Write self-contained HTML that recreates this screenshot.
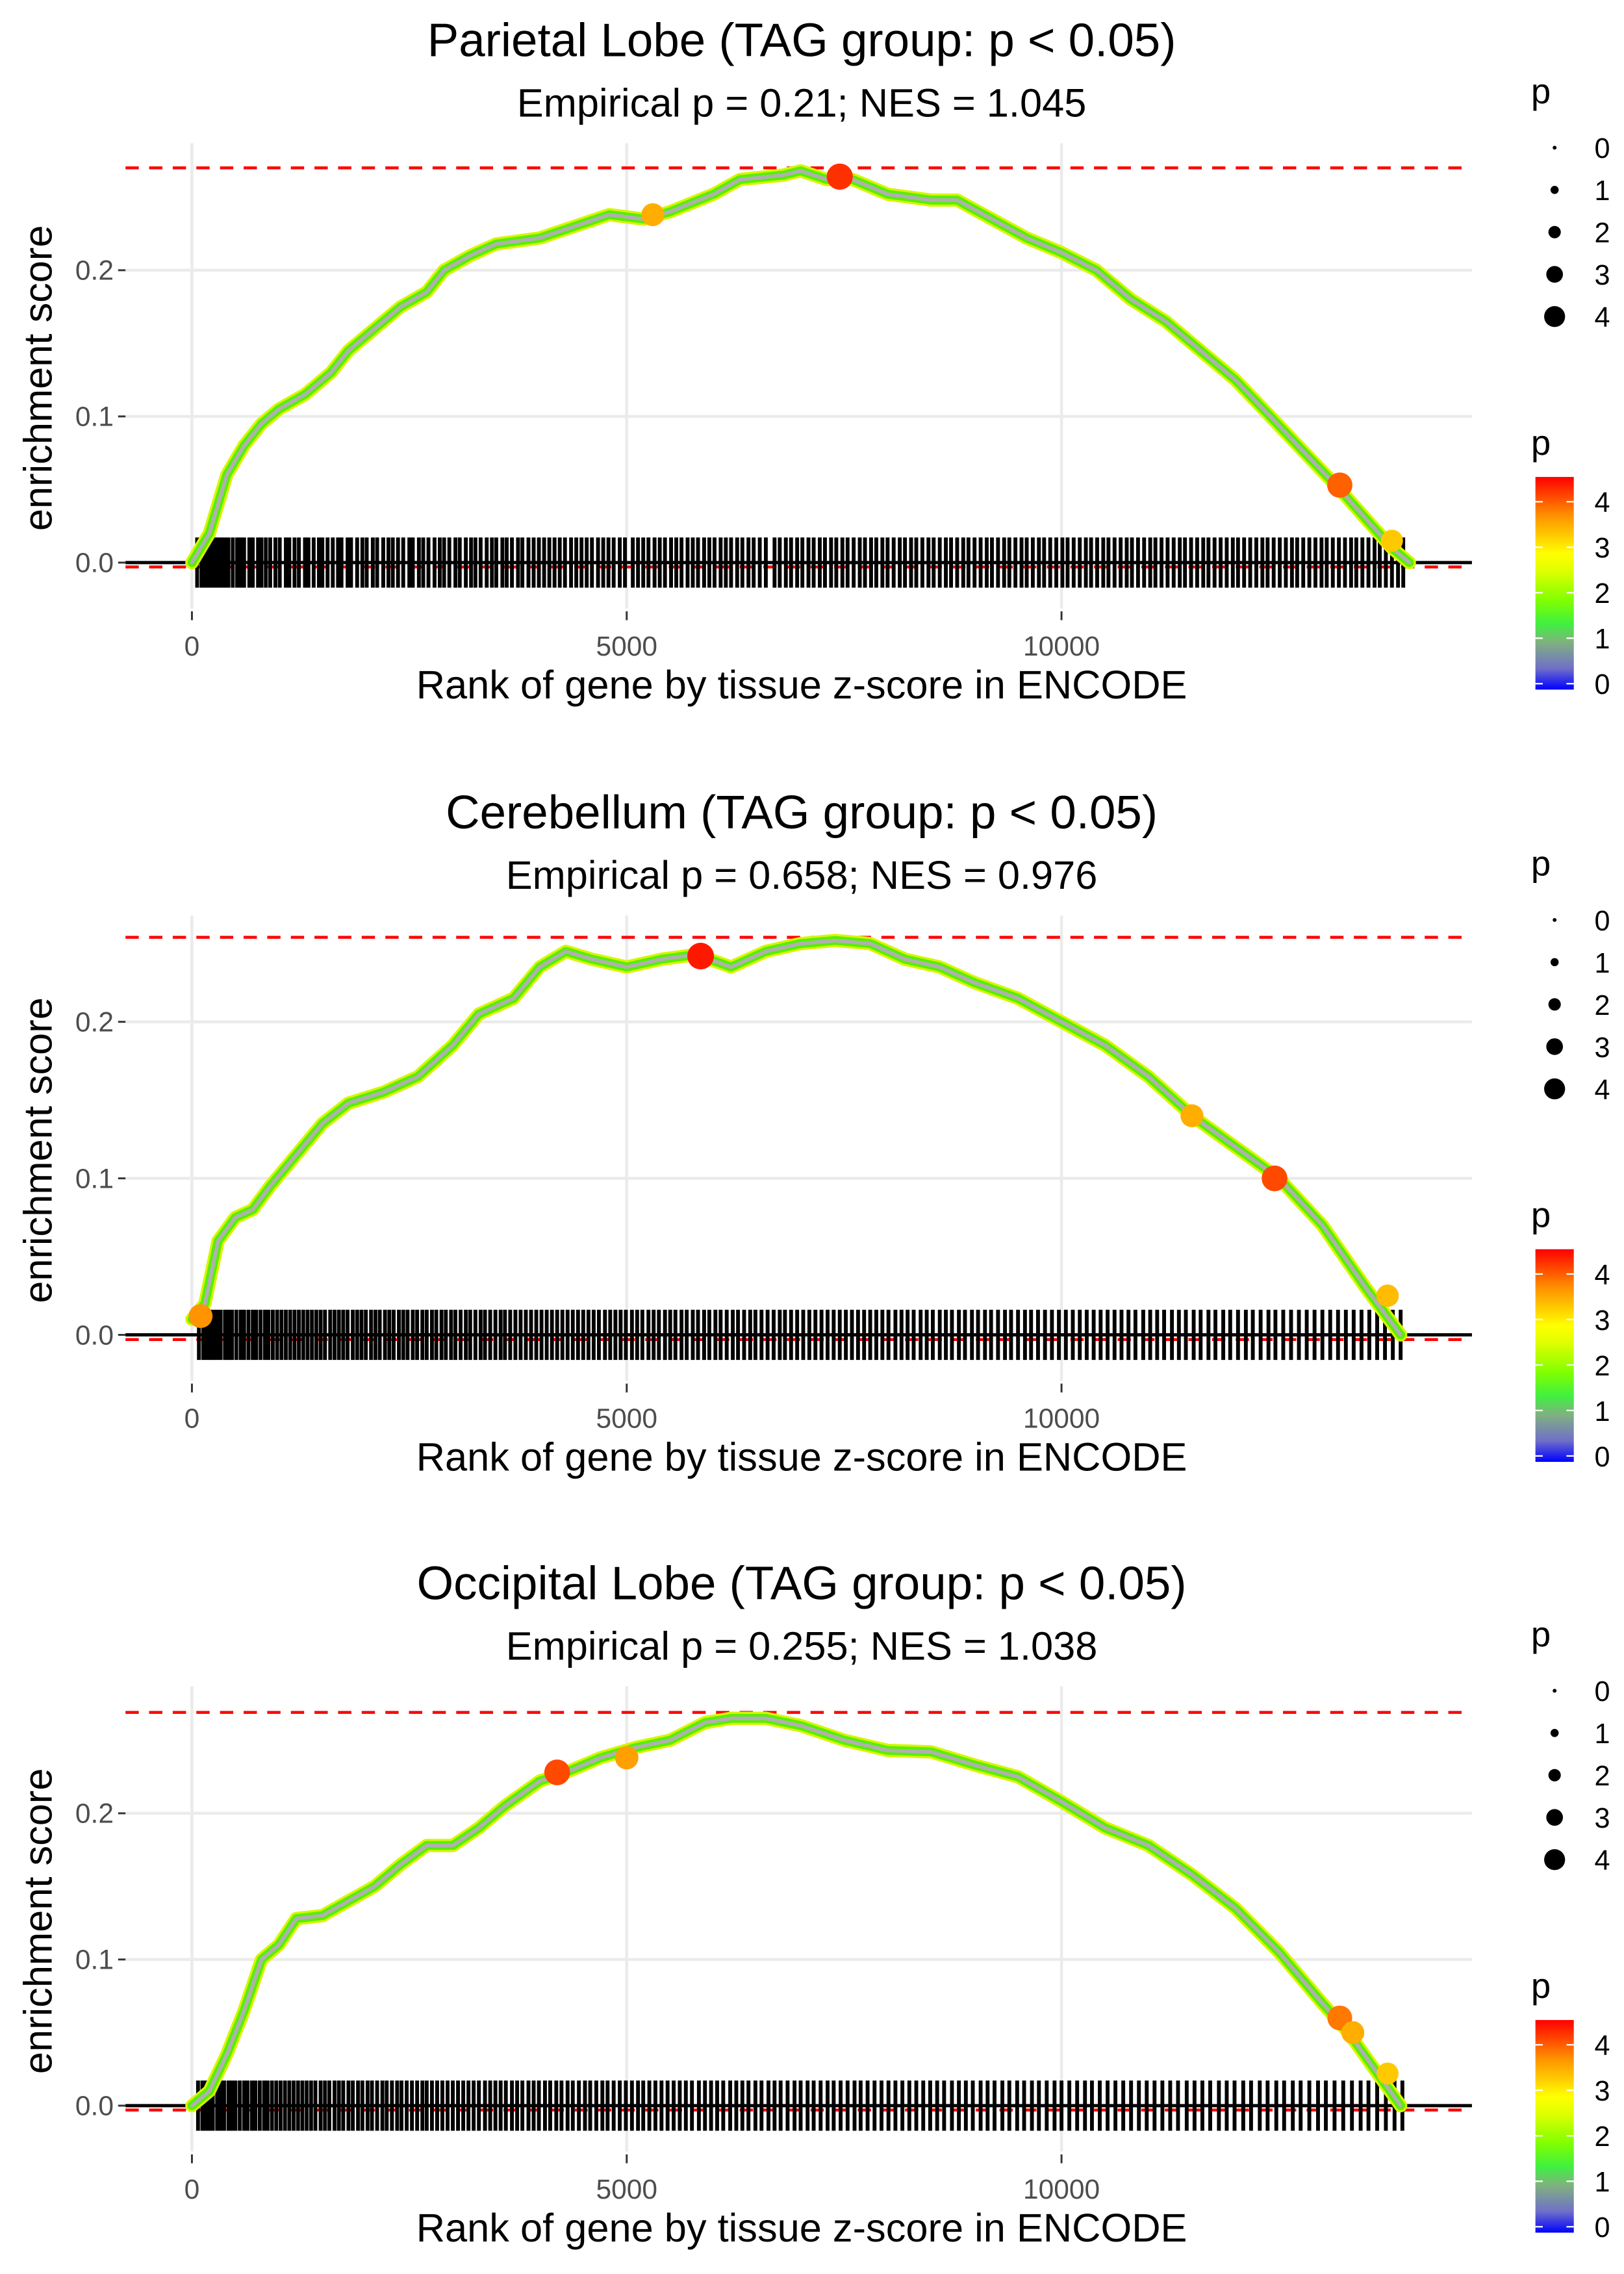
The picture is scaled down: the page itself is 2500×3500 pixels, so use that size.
<!DOCTYPE html>
<html><head><meta charset="utf-8"><style>
html,body{margin:0;padding:0;background:#fff}
svg{display:block}
text{font-family:"Liberation Sans",sans-serif}
</style></head><body>
<svg id="chart" width="2500" height="3500" viewBox="0 0 1100 1540" xmlns="http://www.w3.org/2000/svg"></svg>
<script>
const titles = ["Parietal Lobe (TAG group: p < 0.05)","Cerebellum (TAG group: p < 0.05)","Occipital Lobe (TAG group: p < 0.05)"];
const subtitles = ["Empirical p = 0.21; NES = 1.045","Empirical p = 0.658; NES = 0.976","Empirical p = 0.255; NES = 1.038"];
const maxES = [0.27, 0.254, 0.269];
const minES = [-0.003, -0.003, -0.003];
const xTicks = [0, 5000, 10000];
const yTicks = [0.0, 0.1, 0.2];
const yTickLabels = ["0.0","0.1","0.2"];
const es1Rank = [0,200,400,600,800,1000,1300,1600,1800,2100,2400,2700,2900,3200,3500,4000,4500,4800,5200,5500,6000,6300,6800,7000,7300,7600,8000,8500,8800,9200,9600,10000,10400,10800,11200,11600,12000,12400,12800,13200,13500,13800,14000];
const es1Val = [0,0.02,0.06,0.08,0.095,0.105,0.115,0.13,0.145,0.16,0.175,0.185,0.2,0.21,0.218,0.222,0.232,0.238,0.235,0.24,0.252,0.262,0.265,0.268,0.262,0.262,0.252,0.248,0.248,0.235,0.222,0.212,0.2,0.18,0.165,0.145,0.125,0.1,0.075,0.05,0.03,0.01,0];
const es2Rank = [0,150,300,500,700,900,1200,1500,1800,2200,2600,3000,3300,3700,4000,4300,4600,5000,5400,5800,6200,6600,7000,7400,7800,8200,8600,9000,9500,10000,10500,11000,11500,12000,12500,13000,13500,13900];
const es2Val = [0.01,0.02,0.06,0.075,0.08,0.095,0.115,0.135,0.148,0.155,0.165,0.185,0.205,0.215,0.235,0.245,0.24,0.235,0.24,0.243,0.235,0.245,0.25,0.252,0.25,0.24,0.235,0.225,0.215,0.2,0.185,0.165,0.14,0.12,0.1,0.07,0.03,0];
const es3Rank = [0,200,400,600,800,1000,1200,1500,1800,2100,2400,2700,3000,3300,3600,4000,4300,4700,5100,5500,5900,6200,6600,7000,7500,8000,8500,9000,9500,10000,10500,11000,11500,12000,12500,13000,13300,13600,13900];
const es3Val = [0,0.01,0.035,0.065,0.1,0.11,0.128,0.13,0.14,0.15,0.165,0.178,0.178,0.19,0.205,0.222,0.228,0.238,0.245,0.25,0.262,0.265,0.265,0.26,0.25,0.243,0.242,0.233,0.225,0.208,0.19,0.178,0.158,0.135,0.105,0.07,0.05,0.025,0];
const hot1Rank = [5300,7450,13200,13800];
const hot1Val = [0.238,0.264,0.053,0.015];
const hot1P = [3.6,4.3,4.1,3.4];
const hot2Rank = [100,5850,11500,12450,13750];
const hot2Val = [0.012,0.242,0.14,0.1,0.025];
const hot2P = [3.8,4.4,3.6,4.2,3.5];
const hot3Rank = [4200,5000,13200,13350,13750];
const hot3Val = [0.228,0.238,0.06,0.05,0.022];
const hot3P = [4.2,3.7,4.0,3.6,3.4];
const hits1 = [60,110,150,190,230,270,300,340,380,420,470,520,560,600,660,700,760,800,850,900,960,1010,1080,1120,1180,1230,1300,1340,1400,1460,1500,1560,1620,1680,1720,1790,1830,1900,1960,2010,2080,2130,2200,2260,2310,2370,2430,2500,2540,2610,2660,2720,2790,2850,2900,2960,3030,3080,3150,3210,3260,3320,3390,3450,3500,3570,3620,3680,3750,3800,3870,3930,3990,4050,4110,4170,4230,4290,4360,4420,4480,4540,4600,4670,4730,4790,4850,4920,4980,5070,5130,5190,5250,5320,5380,5440,5510,5570,5630,5700,5760,5820,5890,5950,6010,6080,6140,6200,6270,6330,6400,6460,6530,6600,6700,6760,6830,6890,6960,7020,7090,7150,7220,7280,7350,7410,7480,7540,7610,7680,7740,7810,7870,7940,8000,8070,8140,8200,8270,8330,8400,8470,8530,8600,8670,8730,8800,8870,8930,9000,9070,9140,9200,9270,9340,9400,9470,9540,9600,9670,9740,9800,9870,9940,10010,10070,10140,10210,10280,10340,10410,10480,10540,10610,10680,10750,10810,10880,10950,11020,11080,11150,11220,11290,11360,11420,11490,11560,11630,11690,11760,11830,11900,11970,12030,12100,12170,12240,12310,12370,12440,12510,12580,12650,12710,12780,12850,12920,12990,13050,13120,13190,13260,13330,13390,13460,13530,13600,13660,13730,13800,13870,13930];
const hits2 = [80,130,170,210,250,290,330,380,420,460,510,560,600,650,700,740,790,840,880,930,980,1030,1080,1130,1180,1230,1280,1330,1380,1430,1480,1530,1590,1640,1690,1740,1790,1850,1900,1950,2000,2060,2110,2160,2220,2270,2320,2380,2430,2480,2540,2590,2650,2700,2760,2810,2870,2920,2980,3030,3090,3150,3200,3260,3320,3370,3430,3490,3550,3600,3660,3720,3780,3840,3900,3960,4020,4080,4140,4200,4260,4320,4380,4440,4500,4560,4620,4680,4750,4810,4870,4930,4990,5060,5120,5180,5250,5310,5370,5440,5500,5560,5630,5690,5760,5820,5890,5950,6020,6080,6150,6220,6280,6350,6420,6480,6550,6620,6690,6760,6820,6890,6960,7030,7100,7170,7240,7310,7380,7450,7520,7590,7660,7730,7800,7870,7940,8010,8090,8160,8230,8300,8380,8450,8520,8600,8670,8740,8820,8890,8970,9040,9120,9190,9270,9350,9420,9500,9580,9650,9730,9810,9890,9970,10050,10130,10210,10290,10370,10450,10530,10610,10690,10770,10850,10940,11020,11100,11180,11270,11350,11430,11520,11600,11690,11770,11860,11940,12030,12120,12200,12290,12380,12460,12550,12640,12730,12820,12910,13000,13090,13180,13270,13360,13450,13540,13630,13720,13810,13900];
const hits3 = [70,120,160,200,240,290,330,370,420,460,500,550,600,640,690,730,780,830,870,920,970,1020,1070,1120,1170,1220,1270,1320,1370,1420,1480,1530,1580,1640,1690,1740,1800,1850,1910,1960,2020,2070,2130,2190,2240,2300,2360,2410,2470,2530,2590,2650,2700,2760,2820,2880,2940,3000,3060,3120,3180,3240,3300,3370,3430,3490,3550,3610,3680,3740,3800,3870,3930,3990,4060,4120,4190,4250,4320,4380,4450,4520,4580,4650,4720,4780,4850,4920,4990,5060,5130,5190,5260,5330,5400,5470,5540,5610,5680,5750,5830,5900,5970,6040,6110,6190,6260,6330,6400,6480,6550,6630,6700,6770,6850,6930,7000,7080,7150,7230,7310,7380,7460,7540,7620,7690,7770,7850,7930,8010,8090,8170,8250,8330,8410,8490,8570,8650,8740,8820,8900,8980,9070,9150,9230,9320,9400,9490,9570,9660,9740,9830,9920,10000,10090,10180,10270,10350,10440,10530,10620,10710,10800,10890,10980,11070,11160,11250,11340,11440,11530,11620,11710,11810,11900,11990,12090,12180,12280,12370,12470,12560,12660,12750,12850,12950,13040,13140,13240,13340,13440,13530,13630,13730,13830,13920];

const panels = [
 {y0:381, y1:282, top:97, bot:412, off:0, rank:es1Rank, val:es1Val, hr:hot1Rank, hv:hot1Val, hp:hot1P, hits:hits1},
 {y0:904, y1:798, top:620, bot:935, off:523, rank:es2Rank, val:es2Val, hr:hot2Rank, hv:hot2Val, hp:hot2P, hits:hits2},
 {y0:1426, y1:1327, top:1142, bot:1457, off:1045, rank:es3Rank, val:es3Val, hr:hot3Rank, hv:hot3Val, hp:hot3P, hits:hits3}
];
const NS = "http://www.w3.org/2000/svg";
const svg = document.getElementById('chart');
function mk(tag, attrs, parent, txt){
  const e = document.createElementNS(NS, tag);
  for (const k in attrs) e.setAttribute(k, attrs[k]);
  if (txt !== undefined) e.textContent = txt;
  (parent||svg).appendChild(e);
  return e;
}
function pcol(p){
  const stops=[[0,[0,0,255]],[1,[130,170,130]],[2,[60,240,0]],[3,[255,255,0]],[4,[255,120,0]],[4.5,[255,0,0]]];
  for(let i=0;i<stops.length-1;i++){const a=stops[i],b=stops[i+1];if(p<=b[0]){const t=(p-a[0])/(b[0]-a[0]);return 'rgb('+a[1].map((c,j)=>Math.round(c+(b[1][j]-c)*t)).join(',')+')';}}
  return 'rgb(255,0,0)';
}
const X0=130, XPER=294.5/5000, PL=85, PR=997;
const sx = r => X0 + r*XPER;
panels.forEach((P, i) => {
  const sy = v => P.y0 - (v)*(P.y0-P.y1)/0.1;
  const g = mk('g', {}, svg);
  
  
  const t = mk('text', {x:543, y:P.off+38, 'text-anchor':'middle', 'font-size':32, fill:'#000'}, g, titles[i]);
   
  const st = mk('text', {x:543, y:P.off+79, 'text-anchor':'middle', 'font-size':27, fill:'#000'}, g, subtitles[i]);
   
  xTicks.forEach(v => {
    const l = mk('line', {x1:sx(v), x2:sx(v), y1:P.top, y2:P.bot, stroke:'#ebebeb', 'stroke-width':2}, g);
     
    const tk = mk('line', {x1:sx(v), x2:sx(v), y1:P.bot+2, y2:P.bot+8, stroke:'#333', 'stroke-width':1.3}, g);
     
    const tl = mk('text', {x:sx(v), y:P.bot+32, 'text-anchor':'middle', 'font-size':18.7, fill:'#4d4d4d'}, g, String(v));
     
  });
  yTicks.forEach((v, k) => {
    const l = mk('line', {x1:PL, x2:PR, y1:sy(v), y2:sy(v), stroke:'#ebebeb', 'stroke-width':2}, g);
     
    const tk = mk('line', {x1:80, x2:85, y1:sy(v), y2:sy(v), stroke:'#333', 'stroke-width':1.3}, g);
     
    const tl = mk('text', {x:77, y:sy(v)+6.5, 'text-anchor':'end', 'font-size':18.7, fill:'#4d4d4d'}, g, yTickLabels[k]);
     
  });
  [maxES[i], minES[i]].forEach(v => {
    const d = mk('line', {x1:PL, x2:PR, y1:sy(v), y2:sy(v), stroke:'#ff0000', 'stroke-width':2, 'stroke-dasharray':'9,7'}, g);
     
  });
  const rg = mk('g', {}, g);
   
  P.hits.forEach(h => {
    const l = mk('line', {x1:sx(h), x2:sx(h), y1:sy(0)-17, y2:sy(0)+17, stroke:'#000', 'stroke-width':2.6}, rg);
     
  });
  const z = mk('line', {x1:PL, x2:PR, y1:sy(0), y2:sy(0), stroke:'#000', 'stroke-width':2.2}, g);
   
  const pts = P.rank.map((r, k) => sx(r).toFixed(1)+','+sy(P.val[k]).toFixed(1)).join(' ');
  [['#d8f500',9],['#55f000',6],['#b0b0b0',2.5]].forEach(([c,w]) => {
    const pl = mk('polyline', {points:pts, fill:'none', stroke:c, 'stroke-width':w, 'stroke-linejoin':'round', 'stroke-linecap':'round'}, g);
     
  });
  P.hr.forEach((r, k) => {
    const c = mk('circle', {cx:sx(r), cy:sy(P.hv[k]), r:2+P.hp[k]*1.6, fill:pcol(P.hp[k])}, g);
     
  });
  const xt = mk('text', {x:543, y:P.off+473, 'text-anchor':'middle', 'font-size':27, fill:'#000'}, g, 'Rank of gene by tissue z-score in ENCODE');
   
  const yt = mk('text', {x:0, y:0, 'text-anchor':'middle', 'font-size':27, fill:'#000', transform:'translate(35,'+(P.off+256)+') rotate(-90)'}, g, 'enrichment score');
   
  const lg = mk('g', {}, g);
   
  mk('text', {x:1037, y:P.off+70, 'font-size':24, fill:'#000'}, lg, 'p');
  [0,1,2,3,4].forEach(s => {
    const cy = P.off + 100 + s*28.6;
    const c = mk('circle', {cx:1053, cy:cy, r:1.3+s*1.45, fill:'#000'}, lg);
     
    const tl = mk('text', {x:1080, y:cy+7, 'font-size':19, fill:'#000'}, lg, String(s));
     
  });
  const cg = mk('g', {}, g);
   
  mk('text', {x:1037, y:P.off+308, 'font-size':24, fill:'#000'}, cg, 'p');
  const gid = 'grad'+i;
  const defs = mk('defs', {}, cg);
  const lgd = mk('linearGradient', {id:gid, x1:0, y1:1, x2:0, y2:0}, defs);
  [[0,'#0000ff'],[0.1,'#7070c8'],[0.22,'#80b080'],[0.31,'#40f040'],[0.42,'#80ff00'],[0.56,'#e0ff00'],[0.64,'#ffff00'],[0.82,'#ff9000'],[1,'#ff0000']].forEach(([o,c]) => mk('stop', {offset:o, 'stop-color':c}, lgd));
  const cb = mk('rect', {x:1040, y:P.off+323, width:26, height:144, fill:'url(#'+gid+')'}, cg);
   
  [0,1,2,3,4].forEach(s => {
    const yy = P.off + 463 - s*30.8;
    mk('line', {x1:1040, x2:1045, y1:yy, y2:yy, stroke:'#fff', 'stroke-width':1}, cg);
    mk('line', {x1:1061, x2:1066, y1:yy, y2:yy, stroke:'#fff', 'stroke-width':1}, cg);
    const tl = mk('text', {x:1080, y:yy+7, 'font-size':19, fill:'#000'}, cg, String(s));
     
  });
});
</script>
</body></html>
